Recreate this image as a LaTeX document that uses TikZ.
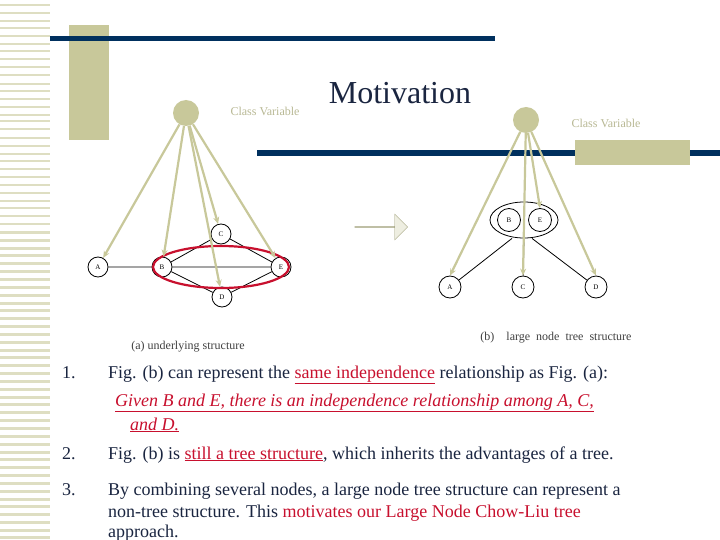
\documentclass[tikz,border=0pt]{standalone}
\usepackage{fontspec}
\setmainfont{Liberation Serif}
\usetikzlibrary{arrows.meta,shapes.arrows,shapes.geometric}
\newcommand\myul[1]{\underline{#1}}
\definecolor{olive}{HTML}{C8C89A}
\definecolor{navy}{HTML}{00305E}
\definecolor{txt}{HTML}{1A2540}
\definecolor{rd}{HTML}{C8102E}
\begin{document}
\begin{tikzpicture}[x=1pt,y=-1pt,
  vn/.style={circle,draw=black,thick,minimum size=20pt,inner sep=0pt,font=\fontsize{7}{8}\selectfont},
  root/.style={circle,fill=olive,minimum size=26pt,inner sep=0pt},
  oarr/.style={olive,line width=2.2pt,-{Stealth[length=7pt,width=6pt]}},
  bl/.style={black,thick},
  body/.style={anchor=base west,text=txt,font=\fontsize{18}{20}\selectfont,inner sep=0pt},
  captext/.style={font=\fontsize{12}{14}\selectfont,text=black!75}]
\useasboundingbox (0,0) rectangle (720,540);
\fill[white] (0,0) rectangle (720,540);
% left stripes
\foreach \y in {4,12,20,27,35,43,50,58,66,74,83,90,98,106,114,120,128,137,145,153,160,168,176,184,192,200,207,215,223,231,239,247,254,262,270,278,286,294,302,309,317,325,333,341,349,356,364,372,380,388,396,403,411,419,427,435,443,451,458,466,474,482,490,498,505,513,521,529,536}
  \fill[olive!60] (0,\y) rectangle (50,\y+2.5);
% decorations
\fill[olive] (69,25) rectangle (109,140);
\fill[navy] (50,36) rectangle (495,41);
\fill[navy] (257,150) rectangle (720,156);
\fill[olive] (575,140) rectangle (690,165);
% title
\node[font=\fontsize{32}{34}\selectfont,text=txt] (title) at (400,93) {Motivation};
% left graph
\node[root] (r1) at (186,113) {};
\node[captext,text=olive!80!gray] (cv1) at (265,111) {Class Variable};
\node[vn] (A1) at (98,267) {A};
\node[vn] (B1) at (162,267) {B};
\node[vn] (E1) at (281,267) {E};
\node[vn] (C1) at (221,234) {C};
\node[vn] (D1) at (222,297) {D};
\draw[bl] (A1)--(B1) (B1)--(E1) (B1)--(C1) (C1)--(E1) (B1)--(D1) (D1)--(E1);
\node[draw=rd,line width=2.2pt,ellipse,minimum width=136pt,minimum height=42pt] (el1) at (221,267) {};
\foreach \t in {A1,B1,C1,D1,E1} \draw[oarr] (r1) -- (\t);
\node[captext] (capa) at (188,347) {(a) underlying structure};
% arrow
\node[single arrow,draw=olive!80!black,fill=olive!30,minimum height=53pt,minimum width=26pt,single arrow head extend=6pt,inner sep=0pt] (barr) at (381,227) {};
% right graph
\node[root] (r2) at (526,120) {};
\node[captext,text=olive!80!gray] (cv2) at (606,123) {Class Variable};
\node[draw=black,thick,ellipse,minimum width=68pt,minimum height=36pt] (big) at (524,220) {};
\node[vn,minimum size=23pt] (B2) at (509,220) {B};
\node[vn,minimum size=23pt] (E2) at (540,220) {E};
\node[vn,minimum size=22pt] (A2) at (450,287) {A};
\node[vn,minimum size=22pt] (C2) at (523,287) {C};
\node[vn,minimum size=22pt] (D2) at (596,287) {D};
\draw[bl] (big.south) ++(-12,0) -- (A2);
\draw[bl] (big.south) -- (C2);
\draw[bl] (big.south) ++(8,0) -- (D2);
\foreach \t in {A2,C2,D2} \draw[oarr] (r2) -- (\t.north);
\draw[oarr] (r2) -- (E2.north);
\node[captext] (capb) at (556,338) {(b)\quad large\enspace node\enspace tree\enspace structure};
% text
\node[body] (n1) at (62,378) {1.};
\node[body] (t1) at (108,378) {Fig. (b) can represent the \textcolor{rd}{\myul{same independence}} relationship as Fig. (a):};
\node[body,text=rd] (t1b) at (115,406) {\itshape\myul{Given B and E, there is an independence relationship among A, C,}};
\node[body,text=rd] (t1c) at (130,430) {\itshape\myul{and D.}};
\node[body] (n2) at (62,459) {2.};
\node[body] (t2) at (108,459) {Fig. (b) is \textcolor{rd}{\myul{still a tree structure}}, which inherits the advantages of a tree.};
\node[body] (n3) at (62,495) {3.};
\node[body] (t3) at (108,495) {By combining several nodes, a large node tree structure can represent a};
\node[body] (t3b) at (108,517) {non-tree structure. This \textcolor{rd}{motivates our Large Node Chow-Liu tree}};
\node[body] (t3c) at (108,537) {approach.};
\end{tikzpicture}
\end{document}
